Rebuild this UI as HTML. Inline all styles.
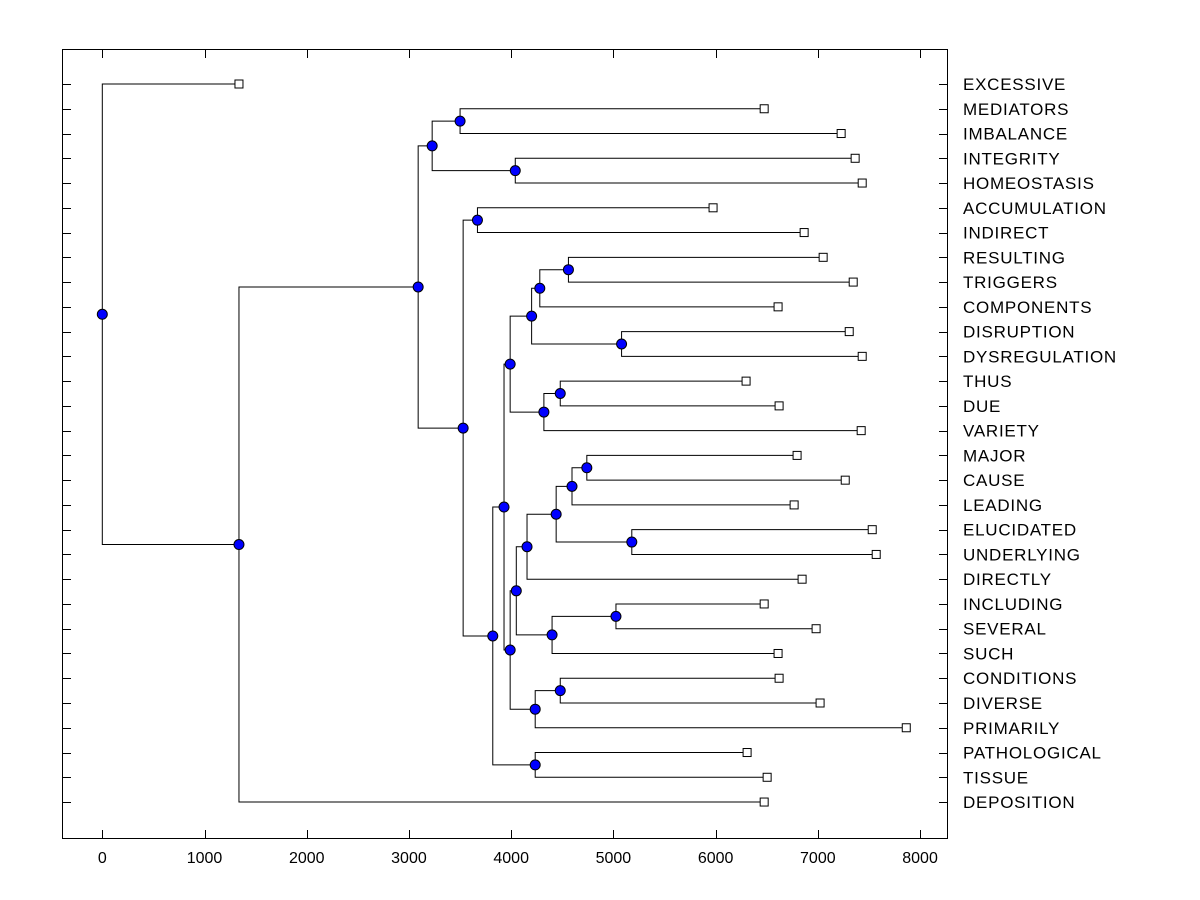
<!DOCTYPE html>
<html><head><meta charset="utf-8"><style>
body{margin:0;background:#fff}
svg{display:block}
text{font-family:"Liberation Sans",Arial,sans-serif;font-size:16px;fill:#000}
text.lbl{font-size:17px;letter-spacing:0.75px}
</style></head><body>
<svg id="chart" width="1200" height="900" viewBox="0 0 1200 900" xmlns="http://www.w3.org/2000/svg">
<rect x="62.5" y="49.5" width="885" height="789" fill="none" stroke="#000" stroke-width="1"/>
<g id="axes"></g><g id="links"></g><g id="nodes"></g>
</svg>
<script>
const leafNames=["EXCESSIVE","MEDIATORS","IMBALANCE","INTEGRITY","HOMEOSTASIS","ACCUMULATION","INDIRECT","RESULTING","TRIGGERS","COMPONENTS","DISRUPTION","DYSREGULATION","THUS","DUE","VARIETY","MAJOR","CAUSE","LEADING","ELUCIDATED","UNDERLYING","DIRECTLY","INCLUDING","SEVERAL","SUCH","CONDITIONS","DIVERSE","PRIMARILY","PATHOLOGICAL","TISSUE","DEPOSITION"];
const leafValues=[1337,6475,7228,7365,7434,5975,6866,7052,7346,6611,7307,7434,6298,6621,7424,6797,7268,6768,7532,7571,6846,6475,6983,6611,6621,7022,7865,6308,6504,6475];
const mergeLeft=[1,3,30,5,7,34,10,35,12,38,37,15,41,18,42,44,21,46,45,24,49,48,40,27,52,33,32,56,0];
const mergeRight=[2,4,31,6,8,9,11,36,13,14,39,16,17,19,43,20,22,23,47,25,26,50,51,28,53,54,55,29,57];
const mergeHeights=[3500,4040,3227,3670,4560,4280,5080,4200,4480,4320,3990,4740,4595,5180,4440,4155,5025,4400,4050,4480,4235,3990,3930,4235,3820,3530,3090,1337,0];
const xTicks=[0,1000,2000,3000,4000,5000,6000,7000,8000];

const NS="http://www.w3.org/2000/svg";
const X=v=>102.3+v*0.10222;
const Y=i=>84+i*24.76;
function mk(tag,attrs,parent){const e=document.createElementNS(NS,tag);for(const k in attrs)e.setAttribute(k,attrs[k]);parent.appendChild(e);return e;}
const axes=document.getElementById('axes'),links=document.getElementById('links'),nodes=document.getElementById('nodes');
xTicks.forEach(t=>{
  const x=Math.round(X(t))+0.5;
  let l=mk('line',{x1:x,x2:x,y1:838,y2:830,stroke:'#000'},axes);
  
  
  l=mk('line',{x1:x,x2:x,y1:50,y2:58,stroke:'#000'},axes);
  
  
  const tx=mk('text',{x:X(t),y:863,'text-anchor':'middle'},axes);tx.textContent=t;
  
  
});
leafNames.forEach((n,i)=>{
  const y=Math.round(Y(i))+0.5;
  let l=mk('line',{x1:63,x2:71,y1:y,y2:y,stroke:'#000'},axes);
  
  
  l=mk('line',{x1:939,x2:947,y1:y,y2:y,stroke:'#000'},axes);
  
  
  const tx=mk('text',{x:963,y:Y(i)+6,'class':'lbl'},axes);tx.textContent=n;
  
  
});
const nx=[],ny=[];
leafValues.forEach((v,i)=>{nx[i]=X(v);ny[i]=Y(i);});
mergeHeights.forEach((h,k)=>{
  const id=30+k,a=mergeLeft[k],b=mergeRight[k];
  nx[id]=X(h);ny[id]=(ny[a]+ny[b])/2;
  const p=mk('path',{d:`M${nx[a]},${ny[a]}H${nx[id]}V${ny[b]}H${nx[b]}`,fill:'none',stroke:'#000','stroke-width':1},links);
  
  
});
leafValues.forEach((v,i)=>{
  const r=mk('rect',{x:nx[i]-4,y:ny[i]-4,width:8,height:8,fill:'#fff',stroke:'#000'},nodes);
  
  
});
mergeHeights.forEach((h,k)=>{
  const id=30+k;
  const c=mk('circle',{cx:nx[id],cy:ny[id],r:5,fill:'#0000ff',stroke:'#000'},nodes);
  
  
});
</script>
</body></html>
